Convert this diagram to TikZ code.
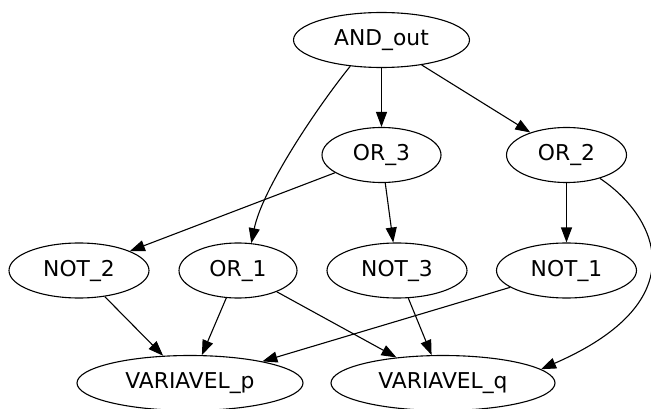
\documentclass[tikz,border=0pt]{standalone}
\usepackage{fontspec}
\setmainfont{DejaVu Sans}
\usetikzlibrary{shapes.geometric,arrows.meta}
\begin{document}
\begin{tikzpicture}[x=1pt,y=-1pt,
  gnode/.style={draw,ellipse,line width=1.1pt,inner sep=0pt,minimum height=55pt,
    font=\fontsize{21.8}{26}\selectfont},
  arr/.style={line width=1.1pt,-{Triangle[length=15pt,width=11pt]}}]
\useasboundingbox (0,0) rectangle (651,409);
\node[gnode,minimum width=176pt] (AND) at (381.5,40) {AND\_out};
\node[gnode,minimum width=119pt] (OR3) at (381.5,155) {OR\_3};
\node[gnode,minimum width=120pt] (OR2) at (566.5,155) {OR\_2};
\node[gnode,minimum width=140pt] (NOT2) at (79,270.5) {NOT\_2};
\node[gnode,minimum width=118pt] (OR1) at (238,270.5) {OR\_1};
\node[gnode,minimum width=140pt] (NOT3) at (397,270.5) {NOT\_3};
\node[gnode,minimum width=140pt] (NOT1) at (566.5,270.5) {NOT\_1};
\node[gnode,minimum width=226pt] (VP) at (190,383) {VARIAVEL\_p};
\node[gnode,minimum width=224pt] (VQ) at (443,383) {VARIAVEL\_q};
\draw[arr] (AND) -- (OR3);
\draw[arr] (AND) -- (OR2);
\draw[arr] (AND.-140) .. controls (315,110) and (262,190) .. (OR1.64);
\draw[arr] (OR3) -- (NOT2);
\draw[arr] (OR3) -- (NOT3);
\draw[arr] (OR2) -- (NOT1);
\draw[arr] (OR2.-35) .. controls (655,215) and (700,300) .. (VQ.8);
\draw[arr] (NOT2) -- (VP);
\draw[arr] (OR1) -- (VP);
\draw[arr] (OR1) -- (VQ);
\draw[arr] (NOT3) -- (VQ);
\draw[arr] (NOT1) -- (VP);
\end{tikzpicture}
\end{document}
